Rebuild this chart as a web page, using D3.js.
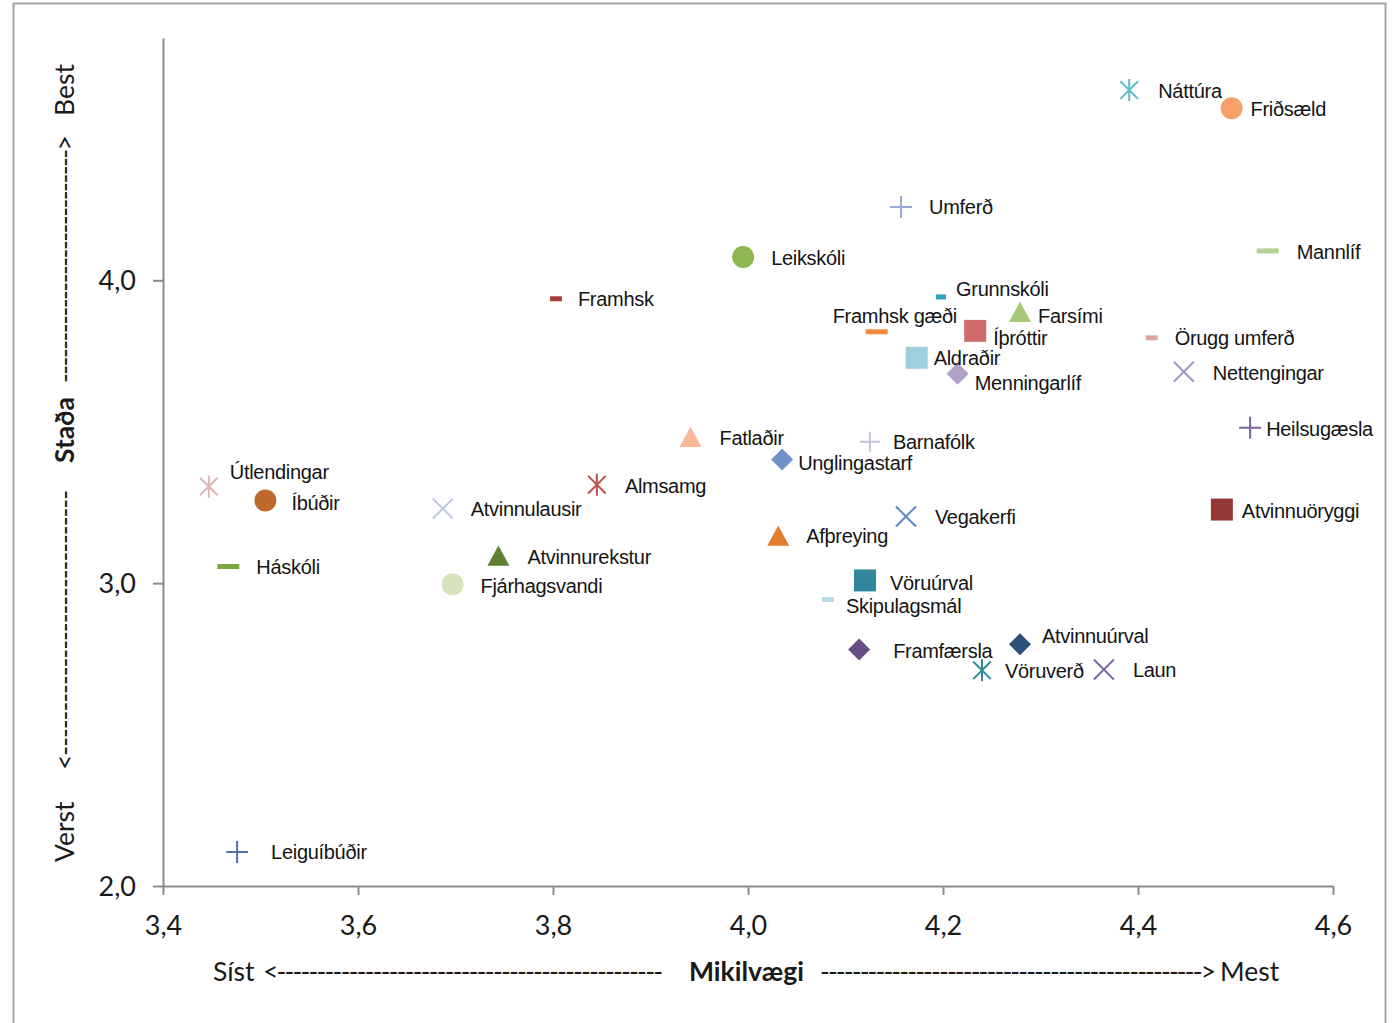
<!DOCTYPE html>
<html>
<head>
<meta charset="utf-8">
<script src="https://cdn.jsdelivr.net/npm/d3@7"></script>
<style>
  html, body { margin: 0; padding: 0; background: #fff; }
  svg { display: block; }
</style>
</head>
<body>
<svg id="chart" width="1393" height="1023"></svg>
<script>
// ---------------- DATA ----------------
const categories = [
  "Náttúra", "Friðsæld", "Umferð", "Mannlíf", "Leikskóli", "Framhsk", "Grunnskóli",
  "Framhsk gæði", "Farsími", "Íþróttir", "Örugg umferð", "Aldraðir", "Menningarlíf",
  "Nettengingar", "Heilsugæsla", "Fatlaðir", "Barnafólk", "Unglingastarf", "Útlendingar",
  "Íbúðir", "Atvinnulausir", "Almsamg", "Atvinnuöryggi", "Vegakerfi", "Afþreying",
  "Háskóli", "Atvinnurekstur", "Fjárhagsvandi", "Vöruúrval", "Skipulagsmál",
  "Atvinnuúrval", "Framfærsla", "Vöruverð", "Laun", "Leiguíbúðir"
];
// Mikilvægi (importance, x)
const importance = [
  4.391, 4.496, 4.157, 4.533, 3.995, 3.803, 4.198,
  4.132, 4.279, 4.233, 4.414, 4.173, 4.215,
  4.447, 4.515, 3.941, 4.125, 4.035, 3.447,
  3.505, 3.687, 3.845, 4.486, 4.162, 4.031,
  3.467, 3.744, 3.697, 4.120, 4.082,
  4.279, 4.114, 4.240, 4.365, 3.476
];
// Staða (status, y)
const status = [
  4.628, 4.568, 4.242, 4.097, 4.077, 3.939, 3.945,
  3.830, 3.893, 3.833, 3.810, 3.744, 3.691,
  3.698, 3.513, 3.480, 3.467, 3.408, 3.319,
  3.273, 3.246, 3.325, 3.243, 3.220, 3.154,
  3.055, 3.088, 2.996, 3.009, 2.946,
  2.798, 2.781, 2.712, 2.715, 2.112
];
const xTicks = [3.4, 3.6, 3.8, 4.0, 4.2, 4.4, 4.6];
const yTicks = [2.0, 3.0, 4.0];
const xDomain = [3.4, 4.6];
const yDomain = [2.0, 4.8];

// ---------------- STYLES (marker shape, colour, size) ----------------
const shapes = [
  "star", "circle", "plus", "dash", "circle", "dash", "dash",
  "dash", "triangle", "square", "dash", "square", "diamond",
  "x", "plus", "triangle", "plus", "diamond", "star",
  "circle", "x", "star", "square", "x", "triangle",
  "dash", "triangle", "circle", "square", "dash",
  "diamond", "diamond", "star", "x", "plus"
];
const colors = [
  "#5fb9cd", "#f6a16a", "#97a8d6", "#b5d094", "#8db550", "#a8403f", "#2fa0c0",
  "#f08a3c", "#a6c877", "#d06a6b", "#dba6a6", "#9fcfdc", "#b1a2c8",
  "#a394c6", "#7c61a4", "#f9b899", "#c8c0dc", "#6f93c9", "#e3b4b4",
  "#c0692c", "#b9c8e4", "#c0504d", "#953735", "#5a86c2", "#e27c2f",
  "#79a640", "#5f8030", "#d6e3bf", "#31869d", "#b8dde8",
  "#2d4f78", "#674d86", "#2f8c99", "#8068a0", "#5072b0"
];
// half-size of marker in px (dash: half width)
const sizes = [
  11, 11, 11, 11, 11, 6, 5,
  11, 11, 11, 6, 11, 11,
  10, 11, 11, 10, 11, 11,
  11, 10, 11, 11, 10, 11,
  11, 11, 11, 11, 6,
  11, 11, 11, 10, 11
];
// label offsets from marker centre (layout only)
const labelOffsets = {
  "Náttúra": [29, 1], "Friðsæld": [19, 1], "Umferð": [28, 0], "Mannlíf": [29, 1],
  "Leikskóli": [28, 1], "Framhsk": [22, 0], "Grunnskóli": [15, -8],
  "Framhsk gæði": [-44, -16], "Farsími": [18, 3], "Íþróttir": [18, 7],
  "Örugg umferð": [23, 0], "Aldraðir": [17, 0], "Menningarlíf": [17, 9],
  "Nettengingar": [29, 1], "Heilsugæsla": [16, 1], "Fatlaðir": [29, 0],
  "Barnafólk": [23, 0], "Unglingastarf": [16, 3], "Útlendingar": [21, -15],
  "Íbúðir": [26, 2], "Atvinnulausir": [28, 0], "Almsamg": [28, 1],
  "Atvinnuöryggi": [20, 1], "Vegakerfi": [29, 0], "Afþreying": [28, -1],
  "Háskóli": [28, 0], "Atvinnurekstur": [29, 0], "Fjárhagsvandi": [28, 1],
  "Vöruúrval": [25, 2], "Skipulagsmál": [18, 6], "Atvinnuúrval": [22, -9],
  "Framfærsla": [34, 1], "Vöruverð": [23, 0], "Laun": [29, 0], "Leiguíbúðir": [34, 0]
};

// ---------------- CHART ----------------
const svg = d3.select("#chart");
const plotLeft = 163, plotRight = 1333, plotTop = 38, plotBottom = 886;

const x = d3.scaleLinear().domain(xDomain).range([plotLeft, plotRight]);
const y = d3.scaleLinear().domain(yDomain).range([plotBottom, plotTop]);

// outer frame
svg.append("rect")
  .attr("x", 13.5).attr("y", 3.5).attr("width", 1372).attr("height", 1040)
  .attr("fill", "none").attr("stroke", "#a6a6a6").attr("stroke-width", 2);

const fmt = d => d3.format(".1f")(d).replace(".", ",");
const axisColor = "#8c8c8c";
const tickFont = "Lato, 'Open Sans', sans-serif";

// x axis
const xAxis = svg.append("g").attr("transform", `translate(0,${plotBottom})`)
  .call(d3.axisBottom(x).tickValues(xTicks).tickFormat(fmt).tickSize(9).tickSizeOuter(0));
// y axis
const yAxis = svg.append("g").attr("transform", `translate(${plotLeft},0)`)
  .call(d3.axisLeft(y).tickValues(yTicks).tickFormat(fmt).tickSize(10).tickSizeOuter(0));

[xAxis, yAxis].forEach(g => {
  g.select(".domain").attr("stroke", axisColor).attr("stroke-width", 2);
  g.selectAll(".tick line").attr("stroke", axisColor).attr("stroke-width", 2);
  g.selectAll(".tick text").attr("fill", "#1a1a1a")
    .style("font-family", tickFont).style("font-size", "27px");
});
xAxis.selectAll(".tick text").attr("dy", "0").attr("y", 49);
yAxis.selectAll(".tick text").attr("x", -27).attr("dy", "0.35em");

// markers
function markerPath(shape, s) {
  const p = d3.path();
  switch (shape) {
    case "circle": p.arc(0, 0, s, 0, 2 * Math.PI); break;
    case "square": p.rect(-s, -s, 2 * s, 2 * s); break;
    case "triangle":
      p.moveTo(0, -s); p.lineTo(s, s * 0.85); p.lineTo(-s, s * 0.85); p.closePath(); break;
    case "diamond":
      p.moveTo(0, -s); p.lineTo(s, 0); p.lineTo(0, s); p.lineTo(-s, 0); p.closePath(); break;
    case "plus":
      p.moveTo(-s, 0); p.lineTo(s, 0); p.moveTo(0, -s); p.lineTo(0, s); break;
    case "x":
      p.moveTo(-s, -s); p.lineTo(s, s); p.moveTo(s, -s); p.lineTo(-s, s); break;
    case "star":
      p.moveTo(-s * 0.8, -s * 0.8); p.lineTo(s * 0.8, s * 0.8);
      p.moveTo(s * 0.8, -s * 0.8); p.lineTo(-s * 0.8, s * 0.8);
      p.moveTo(0, -s); p.lineTo(0, s); break;
    case "dash": p.rect(-s, -2.5, 2 * s, 5); break;
  }
  return p.toString();
}
const stroked = new Set(["plus", "x", "star"]);

const pts = categories.map((c, i) => ({
  name: c, vx: importance[i], vy: status[i],
  shape: shapes[i], color: colors[i], size: sizes[i]
}));

svg.append("g").selectAll("path").data(pts).join("path")
  .attr("transform", d => `translate(${x(d.vx)},${y(d.vy)})`)
  .attr("d", d => markerPath(d.shape, d.size))
  .attr("fill", d => stroked.has(d.shape) ? "none" : d.color)
  .attr("stroke", d => stroked.has(d.shape) ? d.color : "none")
  .attr("stroke-width", 2);

// labels
svg.append("g").selectAll("text").data(pts).join("text")
  .attr("x", d => x(d.vx) + labelOffsets[d.name][0])
  .attr("y", d => y(d.vy) + labelOffsets[d.name][1])
  .attr("dy", "0.36em")
  .attr("fill", "#141414")
  .style("font-family", "'Liberation Sans', Arial, sans-serif")
  .style("font-size", "20px")
  .style("letter-spacing", "-0.3px")
  .text(d => d.name);

// axis titles
const titleFont = "Lato, 'Open Sans', sans-serif";
const dashes = "-".repeat(48);
const tx = svg.append("g").style("font-family", titleFont).style("font-size", "26.5px").attr("fill", "#1a1a1a");
tx.append("text").attr("x", 213).attr("y", 981).text("Síst");
tx.append("text").attr("x", 263).attr("y", 981).attr("textLength", 400).attr("lengthAdjust", "spacing").text("<" + dashes);
tx.append("text").attr("x", 689).attr("y", 981).style("font-weight", "bold").text("Mikilvægi");
tx.append("text").attr("x", 820).attr("y", 981).attr("textLength", 396).attr("lengthAdjust", "spacing").text(dashes + ">");
tx.append("text").attr("x", 1220).attr("y", 981).text("Mest");

const ty = svg.append("g").style("font-family", titleFont).style("font-size", "26.5px").attr("fill", "#1a1a1a");
function vtext(yPos, str, opts = {}) {
  const t = ty.append("text")
    .attr("transform", `translate(74,${yPos}) rotate(-90)`)
    .text(str);
  if (opts.len) t.attr("textLength", opts.len).attr("lengthAdjust", "spacing");
  if (opts.bold) t.style("font-weight", "bold");
  return t;
}
vtext(862, "Verst");
vtext(770, "<" + "-".repeat(30), { len: 280 });
vtext(463, "Staða", { bold: true });
vtext(383, "-".repeat(28) + ">", { len: 248 });
vtext(116, "Best");
</script>
</body>
</html>
